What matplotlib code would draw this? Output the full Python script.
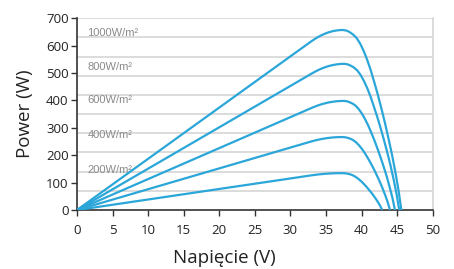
import matplotlib
matplotlib.use("Agg")
import matplotlib.pyplot as plt

# ---- data ----
labels = ["1000W/m²", "800W/m²", "600W/m²", "400W/m²", "200W/m²"]
label_pos_p = [648, 522, 401, 273, 146]

v_1000 = [0, 5, 10, 15, 20, 25, 30, 32.9, 33.4, 33.9, 34.4, 34.9, 35.4, 35.9, 36.4, 36.9, 37.4,
          37.9, 38.3, 38.8, 39.3, 39.8, 40.3, 40.8, 41.3, 41.8, 42.3, 42.8, 43.3, 43.8, 44.3, 44.8, 45.2, 45.6]
p_1000 = [0, 93.5, 187, 280.5, 374, 467.5, 561, 615.2, 624.0, 631.8, 638.6, 644.3, 649.0, 652.6, 655.2, 656.8, 657.3,
          655, 650, 641, 628, 608, 581, 548, 510, 466, 420, 370, 317, 260, 200, 132, 72, 0]

v_800 = [0, 5, 10, 15, 20, 25, 30, 33.1, 33.6, 34.1, 34.6, 35.1, 35.6, 36.1, 36.6, 37.1, 37.6,
         38.07, 38.45, 38.92, 39.39, 39.86, 40.33, 40.8, 41.27, 41.73, 42.2, 42.67, 43.14, 43.61, 44.08, 44.55, 44.92, 45.3]
p_800 = [0, 75.5, 151, 226.5, 302, 377.5, 453, 499.8, 506.9, 513.2, 518.7, 523.3, 527.1, 530.0, 532.1, 533.4, 533.8,
         531.6, 527.5, 520.6, 510.0, 493.5, 471.6, 445.0, 414.0, 378.2, 340.8, 300.3, 257.1, 211.3, 162.2, 107.2, 58.7, 0]

v_600 = [0, 5, 10, 15, 20, 25, 30, 33.0, 33.5, 34.0, 34.5, 35.0, 35.5, 36.0, 36.5, 37.0, 37.5,
         37.94, 38.29, 38.73, 39.17, 39.61, 40.05, 40.49, 40.93, 41.37, 41.81, 42.24, 42.68, 43.12, 43.56, 43.99, 44.35, 44.7]
p_600 = [0, 56.5, 113, 169.5, 226, 282.5, 339, 372.9, 378.2, 382.9, 387.0, 390.5, 393.3, 395.5, 397.1, 398.0, 398.3,
         397.1, 393.9, 388.7, 380.8, 368.4, 352.1, 332.2, 309.1, 282.4, 254.5, 224.2, 192.0, 157.7, 121.1, 80.1, 43.8, 0]

v_400 = [0, 5, 10, 15, 20, 25, 30, 32.8, 33.3, 33.8, 34.3, 34.8, 35.3, 35.8, 36.3, 36.8, 37.3,
         37.71, 38.04, 38.45, 38.85, 39.26, 39.67, 40.08, 40.49, 40.9, 41.31, 41.72, 42.12, 42.53, 42.93, 43.34, 43.67, 44.0]
p_400 = [0, 38, 76, 114, 152, 190, 228, 249.3, 252.9, 256.1, 258.8, 261.1, 263.0, 264.5, 265.6, 266.2, 266.4,
         265.6, 263.5, 260.0, 254.7, 246.4, 235.5, 222.2, 206.7, 188.9, 170.2, 150.0, 128.4, 105.5, 81.0, 53.5, 29.3, 0]

v_200 = [0, 5, 10, 15, 20, 25, 30, 32.8, 33.3, 33.8, 34.3, 34.8, 35.3, 35.8, 36.3, 36.8, 37.3,
         37.64, 37.92, 38.26, 38.6, 38.94, 39.28, 39.62, 39.97, 40.31, 40.65, 40.99, 41.33, 41.67, 42.01, 42.35, 42.63, 42.9]
p_200 = [0, 19.2, 38.4, 57.6, 76.8, 96, 115.2, 126.0, 127.8, 129.4, 130.8, 132.0, 132.9, 133.7, 134.2, 134.5, 134.6,
         134.2, 133.1, 131.4, 128.7, 124.5, 119.0, 112.3, 104.5, 95.4, 86.0, 75.8, 64.9, 53.3, 40.9, 27.1, 14.8, 0]

curves = [(v_1000, p_1000), (v_800, p_800), (v_600, p_600), (v_400, p_400), (v_200, p_200)]

x_ticks = [0, 5, 10, 15, 20, 25, 30, 35, 40, 45, 50]
y_ticks = [0, 100, 200, 300, 400, 500, 600, 700]
grid_levels = [70, 140, 210, 280, 350, 420, 490, 560, 630, 700]

x_label = "Napięcie (V)"
y_label = "Power (W)"

# ---- figure ----
fig = plt.figure(figsize=(4.54, 2.69), dpi=100)
ax = fig.add_axes([0.1696, 0.2193, 0.953 - 0.1696, 0.932 - 0.2193])

for g in grid_levels:
    ax.axhline(g, color="#d6d6d6", lw=1.2, zorder=1)

line_color = "#2aa6d9"
for v, p in curves:
    ax.plot(v, p, color=line_color, lw=1.6, zorder=3,
            solid_joinstyle="round", solid_capstyle="round")

for lab, py in zip(labels, label_pos_p):
    ax.text(1.45, py, lab, fontsize=8, color="#8a8a8a", va="center", ha="left",
            family="Liberation Sans", zorder=2)

ax.set_xlim(0, 50)
ax.set_ylim(0, 700)
ax.set_xticks(x_ticks)
ax.set_yticks(y_ticks)

ax.spines["top"].set_visible(False)
ax.spines["right"].set_color("#d6d6d6")
ax.spines["right"].set_linewidth(1.2)
ax.spines["left"].set_color("#333333")
ax.spines["bottom"].set_color("#333333")
ax.spines["left"].set_linewidth(1.2)
ax.spines["bottom"].set_linewidth(1.2)

ax.tick_params(axis="both", direction="out", length=4, width=1.0, color="#333333",
               labelsize=9.5, labelcolor="#222222")
ax.tick_params(axis="y", pad=2)
ax.tick_params(axis="x", pad=6)
for t in ax.get_xticklabels() + ax.get_yticklabels():
    t.set_family("Open Sans")

ax.text(0.413, -0.25, x_label, transform=ax.transAxes, ha="center", va="center",
        fontsize=13.5, family="Open Sans", color="#222222")
ax.text(-0.146, 0.505, y_label, transform=ax.transAxes, ha="center", va="center",
        rotation=90, fontsize=13.5, family="Open Sans", color="#222222")

fig.savefig("out.png", dpi=100)
